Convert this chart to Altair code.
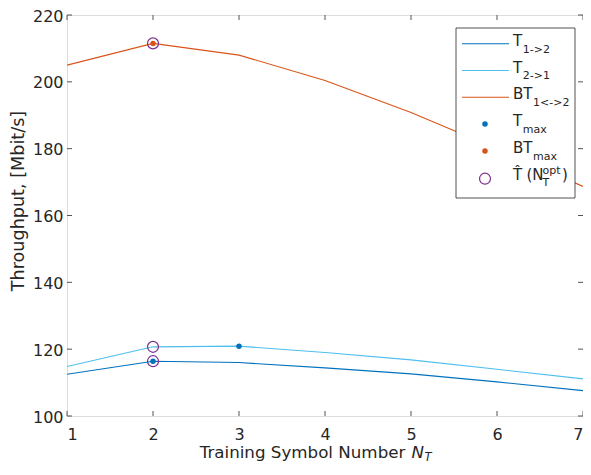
import altair as alt
import pandas as pd

# ---- data ----
N_T = [1, 2, 3, 4, 5, 6, 7]
T_12 = [112.5, 116.4, 116.0, 114.4, 112.6, 110.2, 107.6]
T_21 = [114.8, 120.7, 120.9, 119.0, 116.8, 114.0, 111.1]
BT_12 = [205.0, 211.5, 208.0, 200.4, 190.8, 180.0, 168.7]

TMAX_X = [2, 3]
TMAX_Y = [116.4, 120.9]
BTMAX_X = [2]
BTMAX_Y = [211.5]
OPT_X = [2, 2, 2]
OPT_Y = [211.5, 120.7, 116.4]

X_TICKS = [1, 2, 3, 4, 5, 6, 7]
Y_TICKS = [100, 120, 140, 160, 180, 200, 220]

SERIES = ["T12", "T21", "BT12"]
COLORS = ["#0072BD", "#4DBEEE", "#D95319"]
LEGEND_MAIN = ["T", "T", "BT", "T", "BT"]
LEGEND_SUB = ["1->2", "2->1", "1<->2", "max", "max"]

FONT = "DejaVu Sans"
TXT = "#262626"
AX = "#555555"
W, H = 516, 401

xs = alt.Scale(domain=[1, 7], nice=False, zero=False)
ys = alt.Scale(domain=[100, 220], nice=False, zero=False)
x_axis = alt.Axis(values=X_TICKS, title=None, ticks=False, tickSize=0, domain=False, grid=False,
                  labelFontSize=16, labelFont=FONT, labelColor=TXT, labelPadding=10, format="d")
y_axis = alt.Axis(values=Y_TICKS, title=None, ticks=False, tickSize=0, domain=False, grid=False,
                  labelFontSize=16, labelFont=FONT, labelColor=TXT, labelPadding=4, labelOffset=1,
                  format="d")


def X(f):
    return alt.X(f, type="quantitative", scale=xs, axis=x_axis)


def Y(f):
    return alt.Y(f, type="quantitative", scale=ys, axis=y_axis)


rows = []
for name, vals in zip(SERIES, [T_12, T_21, BT_12]):
    for n, v in zip(N_T, vals):
        rows.append({"series": name, "n": n, "v": v})
lines_df = pd.DataFrame(rows)

lines = alt.Chart(lines_df).mark_line(strokeWidth=1.1, clip=True).encode(
    x=X("n"), y=Y("v"),
    color=alt.Color("series:N", scale=alt.Scale(domain=SERIES, range=COLORS), legend=None),
    detail="series:N",
)

tmax = alt.Chart(pd.DataFrame({"n": TMAX_X, "v": TMAX_Y})).mark_point(
    filled=True, size=30, color="#0072BD", opacity=1).encode(x=X("n"), y=Y("v"))
btmax = alt.Chart(pd.DataFrame({"n": BTMAX_X, "v": BTMAX_Y})).mark_point(
    filled=True, size=30, color="#D95319", opacity=1).encode(x=X("n"), y=Y("v"))
opt = alt.Chart(pd.DataFrame({"n": OPT_X, "v": OPT_Y})).mark_point(
    filled=False, size=120, color="#7E2F8E", strokeWidth=1.2, opacity=1).encode(x=X("n"), y=Y("v"))

# inward tick marks on all four sides
xt = pd.DataFrame({"n": X_TICKS})
yt = pd.DataFrame({"v": Y_TICKS})
tick_layers = [
    alt.Chart(xt).mark_rule(color=AX, strokeWidth=1).encode(
        x=X("n"), y=alt.value(H), y2=alt.value(H - 5)),
    alt.Chart(xt).mark_rule(color=AX, strokeWidth=1).encode(
        x=X("n"), y=alt.value(0), y2=alt.value(5)),
    alt.Chart(yt).mark_rule(color=AX, strokeWidth=1).encode(
        y=Y("v"), x=alt.value(0), x2=alt.value(5)),
    alt.Chart(yt).mark_rule(color=AX, strokeWidth=1).encode(
        y=Y("v"), x=alt.value(W), x2=alt.value(W - 5)),
]

one = pd.DataFrame({"a": [0]})


def txt(s, x, y, size, italic=False, align="left", angle=0, baseline="alphabetic"):
    kw = dict(text=s, align=align, baseline=baseline, fontSize=size, font=FONT, color=TXT)
    if italic:
        kw["fontStyle"] = "italic"
    if angle:
        kw["angle"] = angle
    return alt.Chart(one).mark_text(**kw).encode(x=alt.value(x), y=alt.value(y))


deco = []
# axis titles
deco.append(txt("Throughput, [Mbit/s]", -43.5, 186, 17.6, align="center", angle=270))
deco.append(txt("Training Symbol Number", 132.7, 443, 16.7))
deco.append(txt("N", 344.5, 443, 16.7, italic=True))
deco.append(txt("T", 357.5, 446, 11.5, italic=True))

# legend box
LB = 389
deco.append(alt.Chart(one).mark_rect(fill="white", stroke="#262626", strokeWidth=0.8).encode(
    x=alt.value(LB), x2=alt.value(LB + 119), y=alt.value(13), y2=alt.value(183)))

LX = LB + 57
row_mark = [28.7 + 26.8 * i for i in range(6)]
row_base = [31.0 + 26.7 * i for i in range(6)]
for i in range(3):
    deco.append(alt.Chart(one).mark_rule(color=COLORS[i], strokeWidth=1.1).encode(
        x=alt.value(LB + 6), x2=alt.value(LB + 53), y=alt.value(row_mark[i])))
deco.append(alt.Chart(one).mark_point(filled=True, size=30, color="#0072BD", opacity=1).encode(
    x=alt.value(LB + 29), y=alt.value(row_mark[3])))
deco.append(alt.Chart(one).mark_point(filled=True, size=30, color="#D95319", opacity=1).encode(
    x=alt.value(LB + 29), y=alt.value(row_mark[4])))
deco.append(alt.Chart(one).mark_point(filled=False, size=120, color="#7E2F8E", strokeWidth=1.2,
                                      opacity=1).encode(x=alt.value(LB + 29), y=alt.value(row_mark[5] + 1)))

main_w = {"T": 9.8, "BT": 20.0}
for i, (m, s) in enumerate(zip(LEGEND_MAIN, LEGEND_SUB)):
    deco.append(txt(m, LX, row_base[i], 15))
    deco.append(txt(s, LX + main_w[m], row_base[i] + 6.7, 11))

# T-hat (N_T^opt)
deco.append(txt("T\u0302", LX, row_base[5], 15))
deco.append(txt("(N", LX + 13.5, row_base[5], 15))
deco.append(txt("T", LX + 29.5, row_base[5] + 6.7, 11))
deco.append(txt("opt", LX + 29.5, row_base[5] - 5.5, 11))
deco.append(txt(")", LX + 49, row_base[5], 15))

chart = alt.layer(lines, *tick_layers, tmax, btmax, opt, *deco).properties(
    width=W, height=H,
    autosize=alt.AutoSizeParams(type="none"),
    padding={"left": 59, "top": 7, "right": 0, "bottom": 47},
).configure_view(stroke=AX, strokeWidth=1).configure(background="white")

chart.save("out.html", embed_options={"renderer": "svg", "actions": False})
